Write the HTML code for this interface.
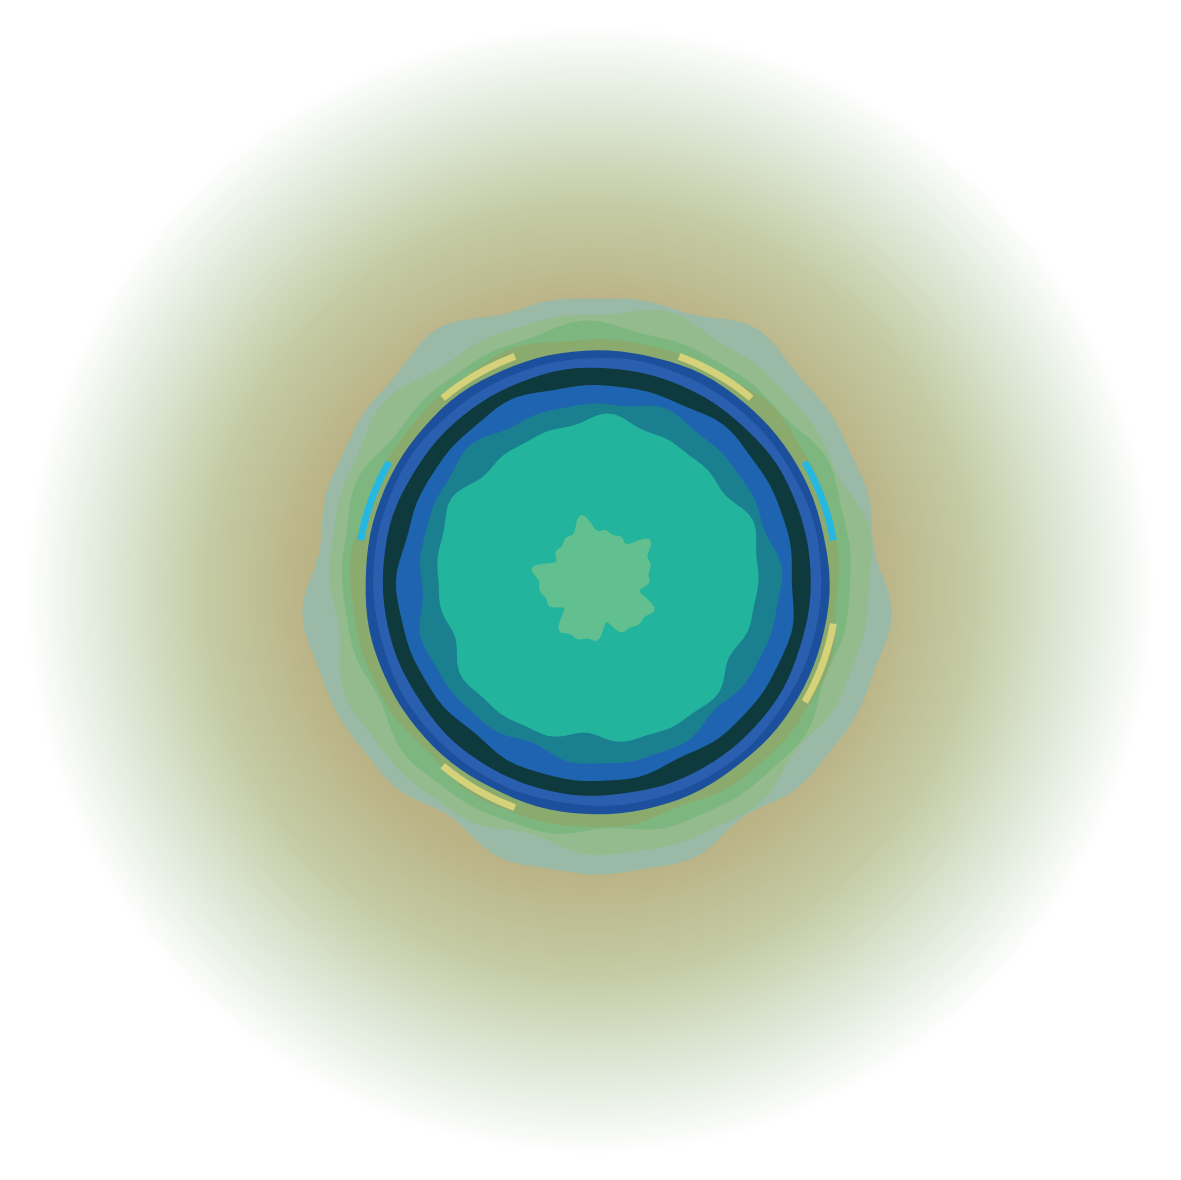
<!DOCTYPE html>
<html><head><meta charset="utf-8"><style>
html,body{margin:0;padding:0;background:#fff;}
svg{display:block;}
</style></head><body>
<svg id="chart" width="1181" height="1180" viewBox="0 0 1181 1180" xmlns="http://www.w3.org/2000/svg">
<defs>
<radialGradient id="halo" cx="590" cy="590" r="565" gradientUnits="userSpaceOnUse">
<stop offset="0" stop-color="#b6aa7c"/>
<stop offset="0.5" stop-color="#bab386"/>
<stop offset="0.68" stop-color="#c4cba4"/>
<stop offset="0.86" stop-color="#e0eadb"/>
<stop offset="1" stop-color="#ffffff"/>
</radialGradient>
</defs>
<rect width="1181" height="1180" fill="#fff"/>
<circle cx="590" cy="590" r="565" fill="url(#halo)"/>
<g id="levels"></g>
</svg>
<script>
const levelRadii = [288, 270, 254, 244, 232, 224, 214, 198, 180, 160, 55];
const levelColors = ["#9ab9a6","#93bb8e","#7db77f","#8aaa6e","#1c4f9c","#2a5fb0","#0e3a3e","#1f64b0","#1a8090","#22b49c","#62bf90"];
const wobble = [12, 10, 8, 5, 1, 1, 1, 4, 7, 9, 14];
const cx = 597, cy = 582;
const g = document.getElementById('levels');
const NS = 'http://www.w3.org/2000/svg';
function ringPath(r, w, seed){
  let d = '';
  const n = 120;
  for(let i=0;i<=n;i++){
    const a = i/n*Math.PI*2;
    const rr = r + w*(0.5*Math.sin(a*5+seed) + 0.3*Math.sin(a*11+seed*2) + 0.2*Math.sin(a*17+seed*3));
    const x = cx + rr*Math.cos(a), y = cy + rr*Math.sin(a);
    d += (i===0?'M':'L') + x.toFixed(1) + ' ' + y.toFixed(1);
  }
  return d + 'Z';
}
levelRadii.forEach((r, i) => {
  const p = document.createElementNS(NS, 'path');
  p.setAttribute('d', ringPath(r, wobble[i], i*1.7));
  p.setAttribute('fill', levelColors[i]);
  
  
  g.appendChild(p);
});
const accents = [[-60,"#d6d27a"],[20,"#d6d27a"],[120,"#d6d27a"],[200,"#26b8e0"],[240,"#d6d27a"],[-20,"#26b8e0"]];
accents.forEach(([deg,col]) => {
  const a1 = (deg-10)*Math.PI/180, a2 = (deg+10)*Math.PI/180, r = 240;
  const p = document.createElementNS(NS, 'path');
  p.setAttribute('d', `M${cx+r*Math.cos(a1)} ${cy+r*Math.sin(a1)} A${r} ${r} 0 0 1 ${cx+r*Math.cos(a2)} ${cy+r*Math.sin(a2)}`);
  p.setAttribute('stroke', col);
  p.setAttribute('stroke-width', '7');
  p.setAttribute('fill', 'none');
  
  
  g.insertBefore(p, g.children[4]);
});
</script>
</body></html>
